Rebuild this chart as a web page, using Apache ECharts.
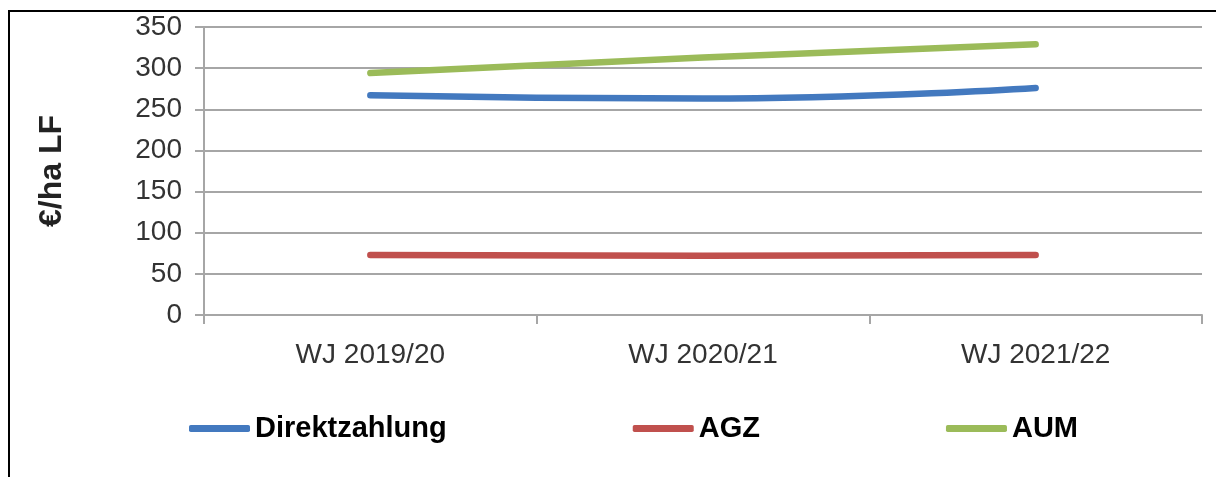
<!DOCTYPE html>
<html>
<head>
<meta charset="utf-8">
<script src="https://cdn.jsdelivr.net/npm/echarts@6/dist/echarts.min.js"></script>
<style>
html,body{margin:0;padding:0;background:#fff;}
#chart{width:1216px;height:477px;}
</style>
</head>
<body>
<div id="chart"></div>
<script>
var categories = ['WJ 2019/20', 'WJ 2020/21', 'WJ 2021/22'];
var direktzahlung = [267, 263, 276];
var agz = [73, 72, 73];
var aum = [294, 313, 329];
var yTicks = [0, 50, 100, 150, 200, 250, 300, 350];

var chart = echarts.init(document.getElementById('chart'));
var font = 'Liberation Sans, Arial, sans-serif';
var grey = '#a6a6a6';
chart.setOption({
  animation: false,
  backgroundColor: '#fff',
  graphic: [{
    type: 'rect',
    shape: {x: 9, y: 11, width: 1240, height: 520},
    style: {fill: 'none', stroke: '#000', lineWidth: 2},
    silent: true
  }],
  grid: {left: 204, right: 14, top: 27, bottom: 162},
  legend: {
    left: 184, top: 409,
    itemWidth: 61, itemHeight: 7, itemGap: 186,
    icon: 'roundRect',
    textStyle: {fontFamily: font, fontSize: 29, fontWeight: 'bold', color: '#000'},
    data: ['Direktzahlung', 'AGZ', 'AUM']
  },
  xAxis: {
    type: 'category',
    data: categories,
    boundaryGap: true,
    axisLine: {lineStyle: {color: grey, width: 2}},
    axisTick: {show: true, length: 9, alignWithLabel: false, lineStyle: {color: grey, width: 2}},
    axisLabel: {fontFamily: font, fontSize: 28, color: '#333', margin: 26}
  },
  yAxis: {
    type: 'value',
    min: yTicks[0], max: yTicks[yTicks.length - 1], interval: 50,
    name: '€/ha LF',
    nameLocation: 'middle',
    nameGap: 136,
    nameRotate: 90,
    nameTextStyle: {fontFamily: font, fontSize: 32, fontWeight: 'bold', color: '#222'},
    axisLine: {show: true, lineStyle: {color: grey, width: 2}},
    axisTick: {show: true, length: 9, lineStyle: {color: grey, width: 2}},
    axisLabel: {fontFamily: font, fontSize: 28, color: '#333', margin: 22},
    splitLine: {show: true, lineStyle: {color: grey, width: 2}}
  },
  series: [
    {name: 'Direktzahlung', type: 'line', data: direktzahlung, smooth: 0.5, showSymbol: false,
     lineStyle: {width: 6.5, color: '#4379bf', cap: 'round'}, itemStyle: {color: '#4379bf'}},
    {name: 'AGZ', type: 'line', data: agz, smooth: 0.5, showSymbol: false,
     lineStyle: {width: 6.5, color: '#c0504d', cap: 'round'}, itemStyle: {color: '#c0504d'}},
    {name: 'AUM', type: 'line', data: aum, smooth: 0.5, showSymbol: false,
     lineStyle: {width: 6.5, color: '#9bbb59', cap: 'round'}, itemStyle: {color: '#9bbb59'}}
  ]
});
</script>
</body>
</html>
